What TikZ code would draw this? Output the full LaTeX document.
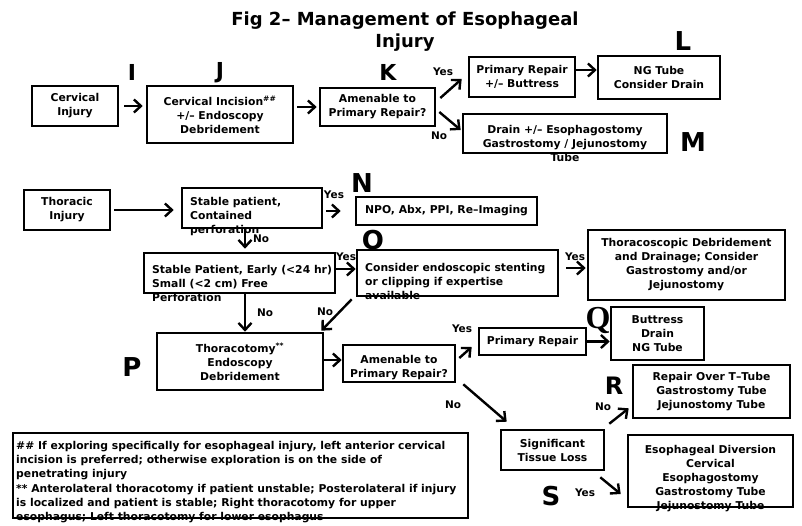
\documentclass[tikz,border=0pt]{standalone}
\usepackage{fontspec}
\setmainfont{DejaVu Sans}
\newfontfamily\serffont{Liberation Serif}
\usetikzlibrary{positioning,arrows.meta,calc}
\begin{document}
\begin{tikzpicture}[x=1pt,y=-1pt,
		box/.style={draw,line width=2.6pt,inner sep=0pt,align=center,font=\fontsize{10.8}{14}\selectfont\bfseries},
		txt/.style={inner sep=0pt,align=center,font=\fontsize{10.8}{14}\selectfont\bfseries},
		ltxt/.style={txt,align=left,anchor=west},
		arr/.style={line width=2.4pt,-{Straight Barb[length=7pt,width=13pt]}},
		yn/.style={inner sep=0pt,font=\fontsize{10.5}{12}\selectfont\bfseries},
		tag/.style={inner sep=0pt,font=\fontsize{26}{26}\selectfont\bfseries}]
		\useasboundingbox (0,0) rectangle (802,525);
		\node[align=center,inner sep=0pt,font=\fontsize{18}{22}\selectfont\bfseries] (title) at (405,32) {Fig 2-- Management of Esophageal\\Injury};
		
		\node[box,minimum width=86,minimum height=40] (cerv) at (75,106) {Cervical\\Injury};
		\node[box,minimum width=146,minimum height=57] (cinc) at (220,114.5) {Cervical Incision\textsuperscript{\#\#}\\+/-- Endoscopy\\Debridement};
		\node[box,minimum width=115,minimum height=38] (amen1) at (377.5,107) {Amenable to\\Primary Repair?};
		\node[box,minimum width=106,minimum height=40] (prim1) at (522,77) {Primary Repair\\+/-- Buttress};
		\node[box,minimum width=122,minimum height=43] (ng) at (659,77.5) {NG Tube\\Consider Drain};
		\node[txt] (drain-t) at (565,143) {Drain +/-- Esophagostomy\\Gastrostomy / Jejunostomy\\Tube};
		\node[box,minimum width=204,minimum height=39] (drain) at (565,133.5) {};
		
		\node[box,minimum width=86,minimum height=40] (thor) at (67,210) {Thoracic\\Injury};
		\node[ltxt] (stab1-t) at (190,217) {Stable patient,\\Contained\\perforation};
		\node[box,minimum width=140,minimum height=40] (stab1) at (252,208) {};
		\node[box,minimum width=181,minimum height=28] (npo) at (446.5,211) {NPO, Abx, PPI, Re--Imaging};
		\node[ltxt] (stab2-t) at (152,283) {Stable Patient, Early (<24 hr)\\Small (<2 cm) Free\\Perforation};
		\node[box,minimum width=191,minimum height=40] (stab2) at (239.5,273) {};
		\node[ltxt] (cons-t) at (365,281) {Consider endoscopic stenting\\or clipping if expertise\\available};
		\node[box,minimum width=201,minimum height=46] (cons) at (457.5,273) {};
		\node[box,minimum width=197,minimum height=70] (thsc) at (686.5,265) {Thoracoscopic Debridement\\and Drainage; Consider\\Gastrostomy and/or\\Jejunostomy};
		\node[box,minimum width=166,minimum height=57] (thcy) at (240,361.5) {Thoracotomy\textsuperscript{**}\\Endoscopy\\Debridement};
		\node[txt] (amen2-t) at (399,368) {Amenable to\\Primary Repair?};
		\node[box,minimum width=112,minimum height=37] (amen2) at (399,363.5) {};
		\node[box,minimum width=107,minimum height=27] (prim2) at (532.5,341.5) {Primary Repair};
		\node[box,minimum width=93,minimum height=53] (butt) at (657.5,333.5) {Buttress\\Drain\\NG Tube};
		\node[box,minimum width=157,minimum height=53] (rep) at (711.5,391.5) {Repair Over T--Tube\\Gastrostomy Tube\\Jejunostomy Tube};
		\node[box,minimum width=103,minimum height=40] (sig) at (552.5,450) {Significant\\Tissue Loss};
		\node[txt] (div-t) at (710.5,479) {Esophageal Diversion\\Cervical\\Esophagostomy\\Gastrostomy Tube\\Jejunostomy Tube};
		\node[box,minimum width=165,minimum height=72] (div) at (710.5,471) {};
		
		\node[txt,align=left,anchor=north west,font=\fontsize{10.8}{14.2}\selectfont\bfseries] (foot-t) at (16,441) {\#\# If exploring specifically for esophageal injury, left anterior cervical\\incision is preferred; otherwise exploration is on the side of\\penetrating injury\\** Anterolateral thoracotomy if patient unstable; Posterolateral if injury\\is localized and patient is stable; Right thoracotomy for upper\\esophagus; Left thoracotomy for lower esophagus};
		\node[box,minimum width=455,minimum height=85] (foot) at (240.5,475.5) {};
		
		\node[tag,font=\fontsize{22}{22}\selectfont\bfseries] (tI) at (132,72) {I};
		\node[tag,font=\fontsize{22}{22}\selectfont\bfseries] (tJ) at (220,73) {J};
		\node[tag,font=\fontsize{22}{22}\selectfont\bfseries] (tK) at (388,72) {K};
		\node[tag] (tL) at (683,41) {L};
		\node[tag] (tM) at (693,142) {M};
		\node[tag] (tN) at (362,183) {N};
		\node[tag] (tO) at (373,240) {O};
		\node[tag] (tP) at (132,367) {P};
		\node[tag,font=\fontsize{32}{32}\selectfont\serffont\bfseries] (tQ) at (598,320) {Q};
		\node[tag,font=\fontsize{24}{24}\selectfont\bfseries] (tR) at (614,386) {R};
		\node[tag] (tS) at (551,496) {S};
		
		\draw[arr,shorten <=5pt,shorten >=3pt] (cerv) -- (cerv -| cinc.west);
		\draw[arr,shorten <=3pt,shorten >=2pt] (amen1.west -| cinc.east) -- (amen1.west);
		\draw[arr] ([xshift=4pt,yshift=9pt]amen1.east) -- ([xshift=-6pt,yshift=-2pt]prim1.west);
		\draw[arr] ([xshift=3pt,yshift=-5pt]amen1.east) -- ([xshift=-1pt,yshift=3.5pt]drain.west);
		\draw[arr] ([yshift=7pt]prim1.east) -- ([yshift=7pt]prim1.east -| ng.west);
		\draw[arr,shorten <=3pt,shorten >=7pt] (thor) -- (thor -| stab1.west);
		\draw[arr,shorten <=3pt,shorten >=14pt] (npo.west -| stab1.east) -- (npo.west);
		\draw[arr,shorten >=3pt] ([xshift=-7pt]stab1.south) -- ([xshift=-7pt]stab1.south |- stab2.north);
		\draw[arr] ([yshift=4pt]stab2.east) -- ([yshift=4pt]cons.west);
		\draw[arr,shorten <=7pt,shorten >=1pt] ([yshift=5pt]cons.east) -- ([yshift=5pt]cons.east -| thsc.west);
		\draw[arr] ([xshift=5.5pt]stab2.south) -- ([xshift=5.5pt]stab2.south |- thcy.north);
		\draw[arr] ([xshift=-4pt,yshift=-2pt]cons.south west) -- ([xshift=-3pt,yshift=1pt]thcy.north east);
		\draw[arr] ([yshift=1.5pt]thcy.east) -- ([yshift=1.5pt]thcy.east -| amen2.west);
		\draw[arr] ([xshift=3pt,yshift=5.5pt]amen2.east) -- ([xshift=-6pt,yshift=-5.5pt]prim2.west);
		\draw[arr] (prim2) -- (prim2 -| butt.west);
		\draw[arr] ([xshift=7pt,yshift=-1pt]amen2.south east) -- ([xshift=7pt,yshift=7pt]sig.north west);
		\draw[arr] ([xshift=4pt,yshift=5pt]sig.north east) -- ([xshift=-3pt,yshift=11pt]rep.south west);
		\draw[arr] ([xshift=-5pt,yshift=-6pt]sig.south east) -- ([xshift=-6pt,yshift=-23pt]div.west);
		
		\node[yn] (y1) at (443,72) {Yes};
		\node[yn] (n1) at (439,136) {No};
		\node[yn] (y2) at (334,195) {Yes};
		\node[yn] (n2) at (261,239) {No};
		\node[yn] (y3) at (346,257) {Yes};
		\node[yn] (y4) at (575,257) {Yes};
		\node[yn] (n3) at (265,313) {No};
		\node[yn] (n4) at (325,312) {No};
		\node[yn] (y5) at (462,329) {Yes};
		\node[yn] (n5) at (453,405) {No};
		\node[yn] (n6) at (603,407) {No};
		\node[yn] (y6) at (585,493) {Yes};
	\end{tikzpicture}
\end{document}
